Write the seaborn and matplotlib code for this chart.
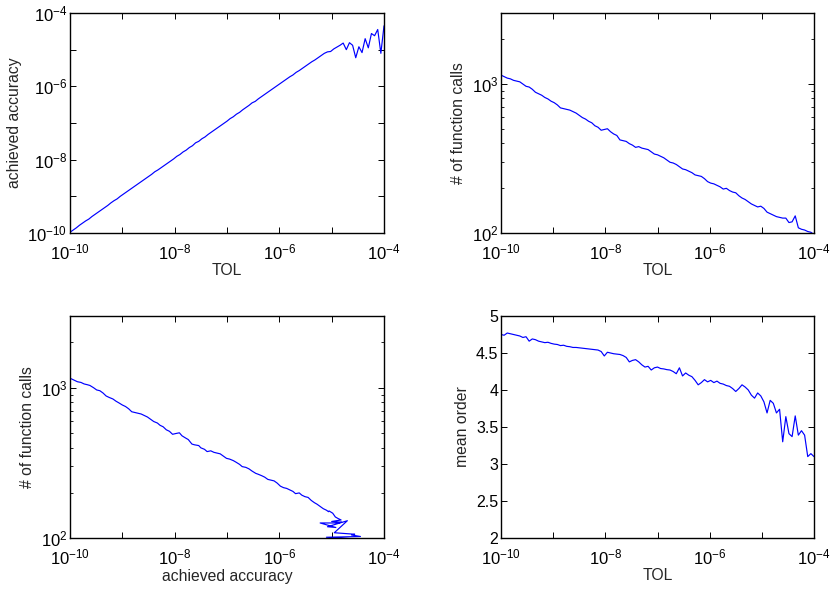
import numpy as np
import pandas as pd
import matplotlib
matplotlib.use("Agg")
import matplotlib.pyplot as plt
import seaborn as sns
from matplotlib.ticker import FixedLocator, FuncFormatter, NullFormatter, NullLocator

# log10 of the tolerance TOL
TOL_EXP = [-10.00, -9.94, -9.88, -9.82, -9.76, -9.70, -9.64, -9.58, -9.52, -9.46,
           -9.40, -9.34, -9.28, -9.22, -9.16, -9.10, -9.04, -8.98, -8.92, -8.86,
           -8.80, -8.74, -8.68, -8.62, -8.56, -8.50, -8.44, -8.38, -8.32, -8.26,
           -8.20, -8.14, -8.08, -8.02, -7.96, -7.90, -7.84, -7.78, -7.72, -7.66,
           -7.60, -7.54, -7.48, -7.42, -7.36, -7.30, -7.24, -7.18, -7.12, -7.06,
           -7.00, -6.94, -6.88, -6.82, -6.76, -6.70, -6.64, -6.58, -6.52, -6.46,
           -6.40, -6.34, -6.28, -6.22, -6.16, -6.10, -6.04, -5.98, -5.92, -5.86,
           -5.80, -5.74, -5.68, -5.62, -5.56, -5.50, -5.44, -5.38, -5.32, -5.26,
           -5.20, -5.14, -5.08, -5.02, -4.96, -4.90, -4.84, -4.78, -4.72, -4.66,
           -4.60, -4.54, -4.48, -4.42, -4.36, -4.30, -4.24, -4.18, -4.12, -4.06,
           -4.00]

# log10 of the achieved accuracy
ACC_EXP = [-9.98, -9.92, -9.86, -9.79, -9.73, -9.67, -9.62, -9.55, -9.49, -9.43,
           -9.37, -9.31, -9.25, -9.18, -9.12, -9.07, -9.00, -8.94, -8.88, -8.82,
           -8.76, -8.70, -8.64, -8.58, -8.52, -8.46, -8.40, -8.33, -8.28, -8.22,
           -8.16, -8.10, -8.04, -7.98, -7.91, -7.86, -7.79, -7.74, -7.67, -7.62,
           -7.54, -7.50, -7.43, -7.38, -7.31, -7.25, -7.19, -7.13, -7.07, -7.01,
           -6.95, -6.88, -6.83, -6.76, -6.71, -6.64, -6.58, -6.52, -6.45, -6.41,
           -6.34, -6.28, -6.22, -6.16, -6.10, -6.04, -5.98, -5.92, -5.86, -5.80,
           -5.74, -5.69, -5.62, -5.57, -5.51, -5.45, -5.39, -5.33, -5.28, -5.22,
           -5.16, -5.10, -5.06, -5.05, -4.98, -4.93, -4.88, -4.82, -5.00, -4.81,
           -4.88, -5.22, -4.92, -5.08, -4.70, -4.95, -4.56, -4.62, -4.45, -5.10,
           -4.35]

# log10 of the number of function calls
NFEV_EXP = [3.060, 3.050, 3.040, 3.035, 3.025, 3.020, 3.015, 3.000, 2.985, 2.980,
            2.965, 2.945, 2.935, 2.925, 2.910, 2.900, 2.885, 2.875, 2.860, 2.840,
            2.835, 2.830, 2.825, 2.815, 2.805, 2.790, 2.775, 2.765, 2.750, 2.740,
            2.720, 2.710, 2.690, 2.695, 2.700, 2.680, 2.665, 2.655, 2.625, 2.620,
            2.615, 2.600, 2.590, 2.575, 2.580, 2.570, 2.565, 2.560, 2.545, 2.530,
            2.525, 2.515, 2.505, 2.490, 2.475, 2.470, 2.460, 2.445, 2.430, 2.425,
            2.415, 2.405, 2.390, 2.385, 2.380, 2.365, 2.345, 2.335, 2.330, 2.320,
            2.310, 2.295, 2.300, 2.285, 2.275, 2.270, 2.250, 2.235, 2.225, 2.210,
            2.195, 2.185, 2.175, 2.180, 2.165, 2.140, 2.130, 2.120, 2.110, 2.105,
            2.100, 2.100, 2.070, 2.075, 2.115, 2.035, 2.025, 2.020, 2.010, 2.005,
            1.990]

MEAN_ORDER = [4.75, 4.74, 4.77, 4.76, 4.75, 4.74, 4.73, 4.71, 4.72, 4.66,
              4.69, 4.68, 4.66, 4.65, 4.64, 4.645, 4.63, 4.62, 4.615, 4.60,
              4.605, 4.59, 4.585, 4.575, 4.575, 4.57, 4.565, 4.56, 4.555, 4.55,
              4.545, 4.54, 4.52, 4.46, 4.51, 4.50, 4.49, 4.485, 4.48, 4.465,
              4.44, 4.38, 4.40, 4.41, 4.38, 4.34, 4.31, 4.32, 4.27, 4.30,
              4.31, 4.29, 4.285, 4.275, 4.27, 4.25, 4.22, 4.30, 4.19, 4.23,
              4.20, 4.18, 4.13, 4.07, 4.10, 4.14, 4.11, 4.13, 4.10, 4.12,
              4.09, 4.08, 4.06, 4.05, 4.02, 3.98, 4.02, 4.07, 4.04, 4.00,
              3.93, 3.89, 3.96, 3.92, 3.84, 3.69, 3.86, 3.82, 3.69, 3.74,
              3.30, 3.64, 3.41, 3.37, 3.65, 3.39, 3.45, 3.39, 3.10, 3.14,
              3.10]

df = pd.DataFrame({
    "tol": 10.0 ** np.array(TOL_EXP),
    "acc": 10.0 ** np.array(ACC_EXP),
    "nfev": 10.0 ** np.array(NFEV_EXP),
    "order": MEAN_ORDER,
})

sns.set_style("ticks")
plt.rcParams.update({
    "xtick.direction": "in", "ytick.direction": "in",
    "xtick.top": True, "ytick.right": True,
    "xtick.major.size": 4, "ytick.major.size": 4,
    "xtick.minor.size": 2.5, "ytick.minor.size": 2.5,
    "xtick.major.width": 0.7, "ytick.major.width": 0.7,
    "xtick.minor.width": 0.6, "ytick.minor.width": 0.6,
    "axes.linewidth": 1.0, "axes.edgecolor": "black",
    "xtick.color": "black", "ytick.color": "black",
    "mathtext.fontset": "custom",
    "mathtext.rm": "Liberation Sans",
    "mathtext.it": "Liberation Sans:italic",
    "mathtext.bf": "Liberation Sans:bold",
})
plt.rcParams["font.family"] = ["Liberation Sans", "DejaVu Sans"]

BLUE = "#0000ff"
LW = 0.85
LABEL_FS = 11.3
TICK_FS = 12

fig = plt.figure(figsize=(8.3, 5.89), dpi=100)
W, H = 830.0, 589.0


def box(l, t, r, b):
    return [l / W, 1 - b / H, (r - l) / W, (b - t) / H]


ax1 = fig.add_axes(box(70, 13, 384, 233))
ax2 = fig.add_axes(box(501, 13, 814, 233))
ax3 = fig.add_axes(box(70, 316, 384, 538))
ax4 = fig.add_axes(box(501, 316, 814, 538))

sns.lineplot(data=df, x="tol", y="acc", ax=ax1, color=BLUE, lw=LW, estimator=None, sort=False)
sns.lineplot(data=df, x="tol", y="nfev", ax=ax2, color=BLUE, lw=LW, estimator=None, sort=False)
sns.lineplot(data=df, x="acc", y="nfev", ax=ax3, color=BLUE, lw=LW, estimator=None, sort=False)
sns.lineplot(data=df, x="tol", y="order", ax=ax4, color=BLUE, lw=LW, estimator=None, sort=False)

decades = [10.0 ** e for e in range(-10, -3)]


def even_dec(v, pos):
    e = int(round(np.log10(v)))
    return r"$\mathdefault{10^{%d}}$" % e if e % 2 == 0 else ""


def all_dec(v, pos):
    e = int(round(np.log10(v)))
    return r"$\mathdefault{10^{%d}}$" % e


for ax in (ax1, ax2, ax3, ax4):
    ax.set_xscale("log")
    ax.set_xlim(1e-10, 1e-4)
    ax.xaxis.set_major_locator(FixedLocator(decades))
    ax.xaxis.set_major_formatter(FuncFormatter(even_dec))
    ax.xaxis.set_minor_locator(NullLocator())
    ax.tick_params(axis="x", which="both", labelsize=TICK_FS, pad=7)
    ax.tick_params(axis="y", which="both", labelsize=TICK_FS, pad=2)
    for s in ax.spines.values():
        s.set_visible(True)
        s.set_color("black")

# top-left
ax1.set_yscale("log")
ax1.set_ylim(1e-10, 1e-4)
ax1.yaxis.set_major_locator(FixedLocator(decades))
ax1.yaxis.set_major_formatter(FuncFormatter(even_dec))
ax1.yaxis.set_minor_locator(NullLocator())

# nfev axes
nf_minor = [200, 300, 400, 500, 600, 700, 800, 900, 2000, 3000]
for ax in (ax2, ax3):
    ax.set_yscale("log")
    ax.set_ylim(100, 3000)
    ax.yaxis.set_major_locator(FixedLocator([100, 1000]))
    ax.yaxis.set_major_formatter(FuncFormatter(all_dec))
    ax.yaxis.set_minor_locator(FixedLocator(nf_minor))
    ax.yaxis.set_minor_formatter(NullFormatter())

# mean order
ax4.set_ylim(2, 5)
ax4.set_yticks([2, 2.5, 3, 3.5, 4, 4.5, 5])
ax4.set_yticklabels(["2", "2.5", "3", "3.5", "4", "4.5", "5"])
ax4.tick_params(axis="y", labelsize=11.5)

ax1.set_xlabel("TOL", fontsize=LABEL_FS, labelpad=0)
ax1.set_ylabel("achieved accuracy", fontsize=LABEL_FS, labelpad=4)
ax2.set_xlabel("TOL", fontsize=LABEL_FS, labelpad=0)
ax2.set_ylabel("# of function calls", fontsize=LABEL_FS, labelpad=4)
ax3.set_xlabel("achieved accuracy", fontsize=LABEL_FS, labelpad=1)
ax3.set_ylabel("# of function calls", fontsize=LABEL_FS, labelpad=4)
ax4.set_xlabel("TOL", fontsize=LABEL_FS, labelpad=0)
ax4.set_ylabel("mean order", fontsize=LABEL_FS, labelpad=4)

fig.savefig("out.png", dpi=100, facecolor="white")
